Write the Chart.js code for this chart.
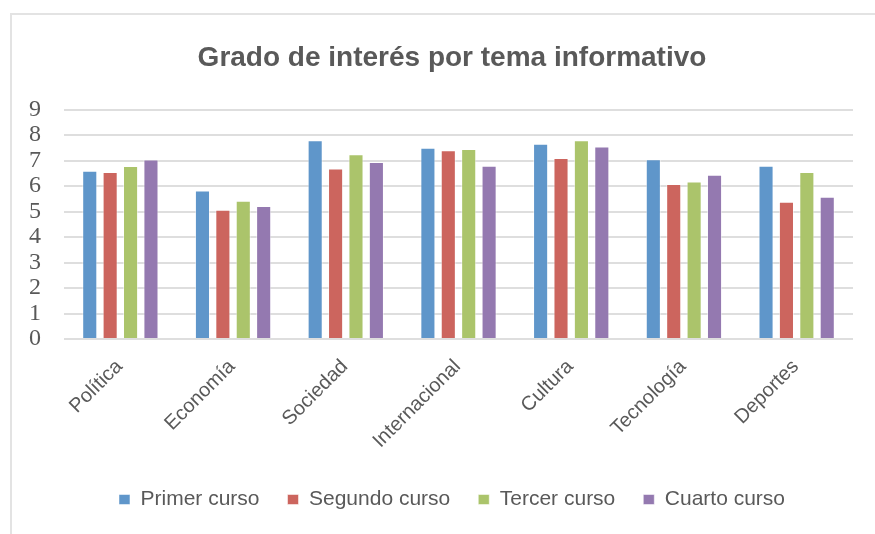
<!DOCTYPE html>
<html>
<head>
<meta charset="utf-8">
<script src="https://cdn.jsdelivr.net/npm/chart.js@4"></script>
<style>
  html, body { margin: 0; padding: 0; background: #fff; }
  #wrap { position: relative; width: 875px; height: 534px; }
  #frame { position: absolute; left: 10px; top: 13px; width: 900px; height: 600px;
           border: 2px solid #e3e3e3; box-sizing: border-box; pointer-events: none; }
  canvas { position: absolute; left: 0; top: 0; }
</style>
</head>
<body>
<div id="wrap">
  <div id="frame"></div>
  <canvas id="myChart" width="875" height="534"></canvas>
</div>
<script>
// Datos del gráfico
var temas = ['Política', 'Economía', 'Sociedad', 'Internacional', 'Cultura', 'Tecnología', 'Deportes'];
var primerCurso  = [6.6, 5.83, 7.8, 7.5, 7.66, 7.05, 6.8];
var segundoCurso = [6.55, 5.07, 6.69, 7.41, 7.1, 6.08, 5.38];
var tercerCurso  = [6.79, 5.42, 7.25, 7.45, 7.8, 6.18, 6.55];
var cuartoCurso  = [7.04, 5.22, 6.94, 6.8, 7.55, 6.44, 5.58];
var yMax = 9;
var yPaso = 1;

var gris = '#595959';

function serie(nombre, valores, color) {
    return {
        label: nombre,
        data: valores,
        backgroundColor: color,
        borderColor: 'rgba(255,255,255,0.5)',
        borderWidth: 1,
        categoryPercentage: 0.724,
        barPercentage: 0.74
    };
}

var data = {
    labels: temas,
    datasets: [
        serie('Primer curso', primerCurso, '#5f96ca'),
        serie('Segundo curso', segundoCurso, '#cc655e'),
        serie('Tercer curso', tercerCurso, '#abc46b'),
        serie('Cuarto curso', cuartoCurso, '#9479b0')
    ]
};

// el título y la leyenda van centrados sobre el marco, un poco a la derecha
var desplazar = {
    id: 'desplazar',
    afterLayout: function (chart) {
        var dx = 11;
        [chart.titleBlock, chart.legend].forEach(function (b) {
            if (b) { b.left += dx; b.right += dx; }
        });
    }
};

var options = {
    responsive: false,
    animation: false,
    layout: { padding: { left: 29, right: 22, top: 41, bottom: 14 } },
    plugins: {
        title: {
            display: true,
            text: 'Grado de interés por tema informativo',
            color: gris,
            font: { family: 'Liberation Sans', size: 28, weight: 'bold' },
            padding: { top: 0, bottom: 35 }
        },
        legend: {
            position: 'bottom',
            labels: {
                color: gris,
                boxWidth: 11,
                boxHeight: 10,
                padding: 28,
                font: { family: 'Liberation Sans', size: 21 }
            }
        },
        tooltip: { enabled: false }
    },
    scales: {
        x: {
            grid: { display: false },
            border: { display: false },
            ticks: {
                color: gris,
                minRotation: 45,
                maxRotation: 45,
                padding: 8,
                labelOffset: -1,
                font: { family: 'Liberation Sans', size: 20 }
            },
            afterFit: function (scale) {
                scale.height = 122;
                scale.paddingLeft = 0;
                scale.paddingRight = 0;
            }
        },
        y: {
            min: 0,
            max: yMax,
            grid: { color: '#dedede', lineWidth: 2, drawTicks: false },
            border: { display: false },
            ticks: {
                stepSize: yPaso,
                autoSkip: false,
                color: gris,
                padding: 23,
                font: { family: 'Liberation Serif', size: 24 }
            },
            afterFit: function (scale) { scale.width = 35; }
        }
    }
};

var ctx = document.getElementById('myChart').getContext('2d');
var myChart = new Chart(ctx, { type: 'bar', data: data, options: options, plugins: [desplazar] });
</script>
</body>
</html>
